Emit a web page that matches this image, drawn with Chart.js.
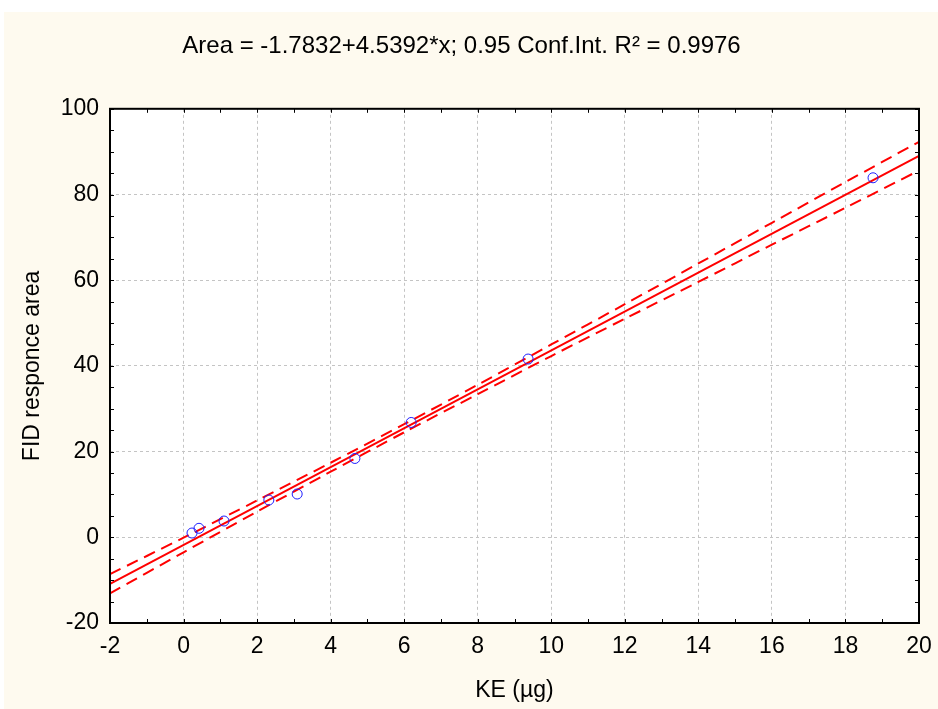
<!DOCTYPE html>
<html>
<head>
<meta charset="utf-8">
<script src="https://cdn.jsdelivr.net/npm/chart.js@4.4.1/dist/chart.umd.min.js"></script>
<style>
  html, body { margin: 0; padding: 0; background: #ffffff; }
  #wrap { position: absolute; left: 4px; top: 12px; width: 934px; height: 697px; background: #fefaef; }
  canvas { display: block; }
</style>
</head>
<body>
<div id="wrap"><canvas id="fitChart" width="934" height="697"></canvas></div>
<script>
// --- data ---
const keX     = [0.23, 0.42, 1.10, 2.32, 3.09, 4.66, 6.19, 9.37, 18.75];
const fidArea = [1.0, 2.1, 3.8, 8.7, 10.1, 18.4, 26.8, 41.6, 83.9];

// fitted line end points (Area = -1.7832 + 4.5392*x)
const fitX = [-2, 20];
const fitY = [-10.86, 89.0];

// 0.95 confidence band, read at each x tick
const bandX     = [-2, 0, 2, 4, 6, 8, 10, 12, 14, 16, 18, 20];
const bandUpper = [-8.6, -0.1, 8.6, 17.4, 26.4, 35.6, 45.0, 54.4, 63.9, 73.4, 82.9, 92.3];
const bandLower = [-13.1, -3.5, 6.0, 15.3, 24.5, 33.4, 42.3, 51.0, 59.6, 68.3, 76.9, 85.6];

const xTicks = [-2, 0, 2, 4, 6, 8, 10, 12, 14, 16, 18, 20];
const yTicks = [-20, 0, 20, 40, 60, 80, 100];

const titleText = 'Area = -1.7832+4.5392*x; 0.95 Conf.Int. R² = 0.9976';
const FONT = "'Liberation Sans', Arial, sans-serif";

const pts = (xs, ys) => xs.map((x, i) => ({ x, y: ys[i] }));

// frame + inward tick marks on all four sides
const frameTicks = {
  id: 'frameTicks',
  afterDatasetsDraw(chart) {
    const { ctx, chartArea: a, scales: { x, y } } = chart;
    ctx.save();
    ctx.strokeStyle = '#000';
    ctx.lineWidth = 1;
    ctx.beginPath();
    for (let v = xTicks[0]; v <= xTicks.at(-1); v += 1) {
      const px = Math.round(x.getPixelForValue(v)) + 0.5;
      ctx.moveTo(px, a.bottom); ctx.lineTo(px, a.bottom - 4);
      ctx.moveTo(px, a.top); ctx.lineTo(px, a.top + 4);
    }
    for (let v = yTicks[0]; v <= yTicks.at(-1); v += 5) {
      const py = Math.round(y.getPixelForValue(v)) + 0.5;
      ctx.moveTo(a.left, py); ctx.lineTo(a.left + 4, py);
      ctx.moveTo(a.right, py); ctx.lineTo(a.right - 4, py);
    }
    ctx.stroke();
    ctx.lineWidth = 2;
    ctx.strokeRect(a.left, a.top, a.right - a.left, a.bottom - a.top);
    ctx.restore();
  }
};

const plotBg = {
  id: 'plotBg',
  beforeDraw(chart) {
    const { ctx, chartArea: a } = chart;
    ctx.save();
    ctx.fillStyle = '#ffffff';
    ctx.fillRect(a.left, a.top, a.right - a.left, a.bottom - a.top);
    ctx.restore();
  }
};

new Chart(document.getElementById('fitChart'), {
  type: 'scatter',
  data: {
    datasets: [
      { label: 'KE', data: pts(keX, fidArea), borderColor: '#1f1fff', backgroundColor: 'rgba(0,0,0,0)',
        borderWidth: 1, pointRadius: 5, pointHoverRadius: 5, order: 0 },
      { label: 'fit', data: pts(fitX, fitY), showLine: true, borderColor: '#ff0000', borderWidth: 2,
        pointRadius: 0, order: 1 },
      { label: 'upper', data: pts(bandX, bandUpper), showLine: true, borderColor: '#ff0000', borderWidth: 2,
        borderDash: [12, 7], pointRadius: 0, tension: 0.3, order: 2 },
      { label: 'lower', data: pts(bandX, bandLower), showLine: true, borderColor: '#ff0000', borderWidth: 2,
        borderDash: [12, 7], pointRadius: 0, tension: 0.3, order: 2 }
    ]
  },
  options: {
    responsive: false,
    animation: false,
    layout: { padding: { left: 0, right: 19, top: 0, bottom: 0 } },
    plugins: {
      legend: { display: false },
      tooltip: { enabled: false },
      title: { display: true, text: titleText, color: '#000',
        font: { family: FONT, size: 24, weight: 'normal' }, padding: { top: 20, bottom: 48 } }
    },
    scales: {
      x: {
        type: 'linear', min: -2, max: 20,
        afterFit: s => { s.height = 86; s.paddingRight = 0; s.paddingLeft = 0; },
        afterBuildTicks: s => { s.ticks = xTicks.map(v => ({ value: v })); },
        ticks: { color: '#000', padding: 10, font: { family: FONT, size: 23 } },
        grid: { color: '#c4c4c4', lineWidth: 1, drawTicks: false },
        border: { display: false, dash: [3, 3] },
        title: { display: true, text: 'KE (µg)', color: '#000', font: { family: FONT, size: 23 },
          padding: { top: 0, bottom: 5 } }
      },
      y: {
        type: 'linear', min: -20, max: 100,
        afterFit: s => { s.width = 106; },
        afterBuildTicks: s => { s.ticks = yTicks.map(v => ({ value: v })); },
        ticks: { color: '#000', padding: 11, font: { family: FONT, size: 23 } },
        grid: { color: '#c4c4c4', lineWidth: 1, drawTicks: false },
        border: { display: false, dash: [3, 3] },
        title: { display: true, text: 'FID responce area', color: '#000', font: { family: FONT, size: 23 },
          padding: { top: 15, bottom: 0 } }
      }
    }
  },
  plugins: [plotBg, frameTicks]
});
</script>
</body>
</html>
